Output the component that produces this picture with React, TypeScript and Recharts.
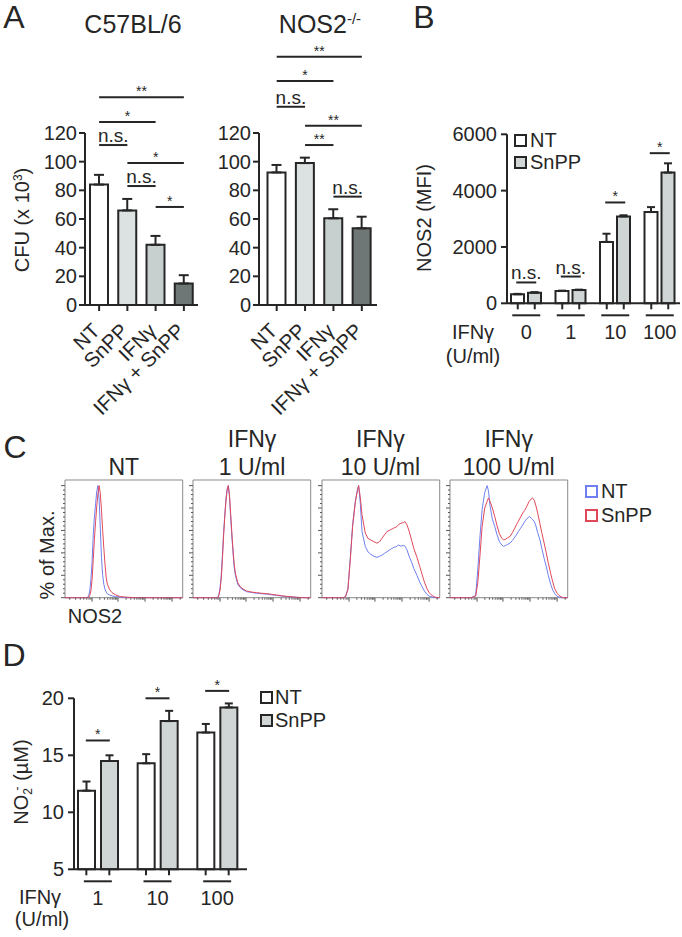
import React from "react";
import {
  Bar,
  BarChart,
  Cell,
  ErrorBar,
  Legend,
  Line,
  LineChart,
  ReferenceArea,
  ReferenceLine,
  XAxis,
  YAxis,
} from "recharts";

const INK = "#262626";
const FONT = '"Liberation Sans", Arial, Helvetica, sans-serif';

// ---- A: CFU ----
const cfuGroups = ["NT", "SnPP", "IFNγ", "IFNγ + SnPP"];
const cfuFills = ["#ffffff", "#dce1e1", "#c7cfcf", "#6f7676"];
const cfuTicks = [0, 20, 40, 60, 80, 100, 120];
const cfuWild = [84, 66, 42, 15];
const cfuWildErr = [6.8, 8, 6.2, 5.8];
const cfuKo = [92.5, 99, 60.5, 53.5];
const cfuKoErr = [5.2, 3.8, 6.3, 8.1];
// [from, to, height, label]
const wildSig: [string, string, number, string][] = [
  ["NT", "IFNγ + SnPP", 145, "**"],
  ["NT", "IFNγ", 127.7, "*"],
  ["NT", "SnPP", 111.6, "n.s."],
  ["SnPP", "IFNγ + SnPP", 99, "*"],
  ["SnPP", "IFNγ", 83, "n.s."],
  ["IFNγ", "IFNγ + SnPP", 68.4, "*"],
];
const koSig: [string, string, number, string][] = [
  ["NT", "IFNγ + SnPP", 173.2, "**"],
  ["NT", "IFNγ", 156.3, "*"],
  ["NT", "SnPP", 138.3, "n.s."],
  ["SnPP", "IFNγ + SnPP", 125.1, "**"],
  ["SnPP", "IFNγ", 111.6, "**"],
  ["IFNγ", "IFNγ + SnPP", 75.6, "n.s."],
];

// ---- B: NOS2 MFI ----
const mfiDoses = ["0", "1", "10", "100"];
const mfiTicks = [0, 2000, 4000, 6000];
const mfiNT = [320, 435, 2180, 3240];
const mfiNTErr = [15, 15, 290, 175];
const mfiSnPP = [375, 470, 3085, 4640];
const mfiSnPPErr = [20, 15, 40, 330];
const mfiSig = ["n.s.", "n.s.", "*", "*"];
const mfiSigAt = [740, 950, 3580, 5330];

// ---- C: histograms (x = position on NOS2 display scale, y = % of max) ----
const hist1X = [0, 10, 18, 20, 21, 22, 23, 24, 25, 26, 27, 28, 29, 30, 31, 32, 33, 34, 35, 36, 38, 40, 43, 47, 52, 60, 100];
const hist1NT = [0, 0, 0, 1, 6, 16, 32, 56, 72, 84, 95, 100, 88, 62, 36, 20, 12, 7.5, 5, 3.5, 2.4, 1.5, 1, 0.5, 0, 0, 0];
const hist1SnPP = [0, 0, 0, 0, 2, 6, 16, 34, 52, 68, 82, 93, 100, 93, 78, 60, 44, 30, 18, 12, 7, 4.5, 2.5, 1, 0.5, 0, 0];

const hist2X = [0, 15, 21, 22, 23, 24, 25, 26, 27, 28, 29, 30, 31, 32, 33, 34, 35, 36, 38, 40, 42.5, 45.5, 50, 54, 58, 62.5, 67, 71, 75, 79.5, 84, 88, 94, 100];
const hist2NT = [0, 0, 0, 3, 9, 20, 38, 58, 74, 88, 97, 100, 90, 72, 55, 40, 27, 20, 12, 9, 7, 5.4, 4.6, 4, 3.6, 3.2, 2.6, 2, 1.5, 1, 0.6, 0.3, 0, 0];
const hist2SnPP = [0, 0, 0, 2, 7, 17, 34, 55, 72, 86, 96, 100, 92, 75, 58, 43, 30, 22, 13.5, 10, 7.8, 6, 5, 4.5, 4, 3.6, 3, 2.4, 1.8, 1.2, 0.8, 0.4, 0, 0];

const hist3X = [0, 18, 20, 22, 24, 26, 28.3, 30, 31.1, 32.5, 34, 36.8, 39, 41, 44, 46.7, 49, 51, 53, 55.2, 58, 60.8, 63, 65, 67, 69.3, 70.5, 72.2, 74, 76.5, 78, 80.7, 83, 85, 87, 89.2, 91, 93.5, 96, 100];
const hist3NT = [0, 0, 1, 8, 35, 65, 86, 96, 100, 85, 59, 45.7, 41, 39, 37, 36, 37, 38, 39.5, 41, 43, 44.8, 45.5, 47, 46, 46.6, 46, 42.7, 37, 30.8, 26, 20, 14, 9.9, 6, 3, 1.5, 0.6, 0, 0];
const hist3SnPP = [0, 0, 1, 7, 33, 63, 85, 95, 100, 90, 74, 57.6, 53, 51.7, 50, 48.7, 50, 53, 56, 59, 60.5, 62, 63, 65, 66.4, 67, 68, 65, 59.5, 50, 44, 36, 28, 21, 14, 8, 4.5, 2, 0.5, 0];

const hist4X = [0, 18, 21.8, 23.6, 25.5, 27.3, 29.5, 31.6, 32.7, 34, 36, 38, 40, 42, 44, 45.5, 47, 49, 51, 53, 55, 56.4, 58, 60, 61.8, 63.5, 65, 67.3, 69, 70, 71.6, 73, 74.5, 76.4, 78, 80, 81.8, 83.5, 85.5, 87.3, 89, 91, 92.7, 94.5, 96.4, 100];
const hist4NT = [0, 0, 2, 24.8, 55, 78.5, 94, 100, 95, 82, 70, 63.6, 56, 50, 47, 45.7, 46.5, 47.5, 48.7, 51, 54, 56, 59, 62, 65, 68, 70, 72.5, 71, 70, 68, 64, 58, 51.7, 44, 35, 27.8, 20, 12, 6.9, 3.5, 1.2, 0.6, 0, 0, 0];
const hist4SnPP = [0, 0, 1.5, 13, 38, 63.6, 80, 86, 89, 86, 80, 72.5, 64, 57, 53, 51.7, 52, 53.5, 54.6, 58, 62, 65, 68, 72, 75.6, 78, 81, 86, 88, 89, 87, 82, 75.6, 66, 58, 48.7, 40, 31, 21.8, 14, 8, 4, 2, 0.8, 0, 0];

const histTitles = [["", "NT"], ["IFNγ", "1 U/ml"], ["IFNγ", "10 U/ml"], ["IFNγ", "100 U/ml"]];
const histDecades = [23, 45, 68, 91];
const histLowTicks = [4, 9, 13, 16, 18.5, 20.5, 22];
const histYTicks = Array.from({ length: 26 }, (_, i) => i * 4);

// ---- D: nitrite ----
const no2Doses = ["1", "10", "100"];
const no2Ticks = [5, 10, 15, 20];
const no2NT = [11.9, 14.3, 17.0];
const no2NTErr = [0.8, 0.8, 0.75];
const no2SnPP = [14.5, 18.0, 19.2];
const no2SnPPErr = [0.5, 0.9, 0.35];
const no2SigAt = [16.3, 20.0, 20.65];

const cfuWildData = cfuGroups.map((g, i) => ({ group: g, cfu: cfuWild[i], err: [0, cfuWildErr[i]] }));
const cfuKoData = cfuGroups.map((g, i) => ({ group: g, cfu: cfuKo[i], err: [0, cfuKoErr[i]] }));
const mfiData = mfiDoses.map((d, i) => ({
  dose: d,
  nt: mfiNT[i],
  ntErr: [0, mfiNTErr[i]],
  snpp: mfiSnPP[i],
  snppErr: [0, mfiSnPPErr[i]],
}));
const no2Data = no2Doses.map((d, i) => ({
  dose: d,
  nt: no2NT[i],
  ntErr: [0, no2NTErr[i]],
  snpp: no2SnPP[i],
  snppErr: [0, no2SnPPErr[i]],
}));
const histSets = [
  [hist1X, hist1NT, hist1SnPP],
  [hist2X, hist2NT, hist2SnPP],
  [hist3X, hist3NT, hist3SnPP],
  [hist4X, hist4NT, hist4SnPP],
].map(([xs, nt, sn]) => xs.map((x, i) => ({ x, nt: nt[i], snpp: sn[i] })));

const histMinor: number[] = [];
for (let d = 0; d < histDecades.length - 1; d++) {
  for (let k = 2; k < 10; k++) {
    histMinor.push(histDecades[d] + (histDecades[d + 1] - histDecades[d]) * Math.log10(k));
  }
}
const histXTicks = [...histLowTicks, ...histDecades, ...histMinor, 97.9].sort((a, b) => a - b);

function Txt({ x, y, size = 20, rotate = 0, children }: any) {
  return (
    <div
      style={{
        position: "absolute",
        left: x,
        top: y,
        transform: `translate(-50%, -50%) rotate(${rotate}deg)`,
        fontSize: size,
        lineHeight: 1,
        whiteSpace: "nowrap",
        color: INK,
      }}
    >
      {children}
    </div>
  );
}

const Sup = ({ children }: any) => (
  <span style={{ fontSize: "0.6em", position: "relative", top: "-0.6em" }}>{children}</span>
);

function SlantTick({ x, y, payload }: any) {
  const ax = x + 2;
  const ay = y + 19;
  return (
    <text x={ax} y={ay} textAnchor="end" fontSize={20.5} fill={INK} transform={`rotate(-45 ${ax} ${ay})`}>
      {payload.value}
    </text>
  );
}

function DoseTick({ x, y, payload, barOff, half }: any) {
  return (
    <g>
      <line x1={x - barOff} x2={x - barOff} y1={y} y2={y + 6} stroke={INK} strokeWidth={2} />
      <line x1={x + barOff} x2={x + barOff} y1={y} y2={y + 6} stroke={INK} strokeWidth={2} />
      <line x1={x - half} x2={x + half} y1={y + 12} y2={y + 12} stroke={INK} strokeWidth={2} />
      <text x={x} y={y + 36} textAnchor="middle" fontSize={20} fill={INK}>
        {payload.value}
      </text>
    </g>
  );
}

function HistXTick({ x, y, payload }: any) {
  const major = histDecades.includes(payload.value);
  return <line x1={x} x2={x} y1={y} y2={y + (major ? 4 : 2)} stroke="#555" strokeWidth={1} />;
}

function HistYTick({ x, y, payload }: any) {
  const major = payload.value % 20 === 0;
  return <line x1={x - (major ? 4 : 2)} x2={x} y1={y} y2={y} stroke="#555" strokeWidth={1} />;
}

const groupSigLine = (half: number) => (p: any) =>
  <line x1={p.x1 - half} x2={p.x1 + half} y1={p.y1} y2={p.y1} stroke={INK} strokeWidth={2} />;

function sigLabel(t: string) {
  const ns = t === "n.s.";
  return { value: t, position: "top" as const, offset: ns ? 3 : 1, fill: INK, fontSize: ns ? 19 : 14 };
}

function SquareLegend({ payload, rowH, outline, left }: any) {
  return (
    <div style={{ fontFamily: FONT }}>
      {(payload || []).map((e: any) => (
        <div key={e.value} style={{ display: "flex", alignItems: "center", height: rowH }}>
          <span
            style={{
              display: "inline-block",
              width: 13,
              height: 13,
              boxSizing: "border-box",
              border: `2px solid ${outline ? e.color : INK}`,
              background: outline ? "#fff" : e.color,
              marginRight: left,
            }}
          />
          <span style={{ fontSize: 20, lineHeight: 1, color: INK }}>{e.value}</span>
        </div>
      ))}
    </div>
  );
}

const axisStroke = { stroke: INK, strokeWidth: 2 };
const tickStyle = { fill: INK, fontSize: 20 };

function CfuChart({ data, sig, left, width, margin, padding }: any) {
  return (
    <div style={{ position: "absolute", left, top: 0 }}>
      <BarChart width={width} height={450} data={data} margin={margin} barSize={18}>
        <XAxis
          dataKey="group"
          interval={0}
          tickSize={6}
          tickLine={axisStroke}
          axisLine={axisStroke}
          tick={<SlantTick />}
          height={140}
          padding={padding}
        />
        <YAxis
          domain={[0, 120]}
          ticks={cfuTicks}
          interval={0}
          width={45}
          tickSize={6}
          tickMargin={2}
          tickLine={axisStroke}
          axisLine={axisStroke}
          tick={tickStyle}
        />
        <Bar dataKey="cfu" stroke={INK} strokeWidth={2} isAnimationActive={false}>
          {data.map((_: any, i: number) => (
            <Cell key={i} fill={cfuFills[i]} />
          ))}
          <ErrorBar dataKey="err" width={5} stroke={INK} strokeWidth={2} direction="y" isAnimationActive={false} />
        </Bar>
        {sig.map(([a, b, y, t]: any, i: number) => (
          <ReferenceLine
            key={i}
            segment={[
              { x: a, y },
              { x: b, y },
            ]}
            stroke={INK}
            strokeWidth={2}
            ifOverflow="visible"
            label={sigLabel(t)}
          />
        ))}
      </BarChart>
    </div>
  );
}

function HistPanel({ data, boxLeft, withLegend }: any) {
  const right = withLegend ? 120.3 : 12;
  return (
    <div style={{ position: "absolute", left: boxLeft - 12, top: 470 }}>
      <LineChart width={12 + 117.7 + right} height={150} data={data} margin={{ top: 10, right, bottom: 2.3, left: 0 }}>
        <XAxis
          type="number"
          dataKey="x"
          domain={[0, 100]}
          ticks={histXTicks}
          interval={0}
          tickSize={0}
          tickMargin={0}
          axisLine={false}
          tickLine={false}
          tick={<HistXTick />}
          height={20}
        />
        <YAxis
          type="number"
          domain={[0, 105]}
          ticks={histYTicks}
          interval={0}
          tickSize={0}
          tickMargin={0}
          axisLine={false}
          tickLine={false}
          tick={<HistYTick />}
          width={12}
        />
        <ReferenceArea x1={0} x2={100} y1={0} y2={105} fill="none" stroke="#8a8a8a" strokeWidth={1} />
        <Line type="linear" dataKey="nt" name="NT" stroke="#6f7ff0" strokeWidth={1} dot={false} isAnimationActive={false} />
        <Line type="linear" dataKey="snpp" name="SnPP" stroke="#e0485a" strokeWidth={1} dot={false} isAnimationActive={false} />
        {withLegend && (
          <Legend
            layout="vertical"
            align="center"
            verticalAlign="middle"
            wrapperStyle={{ left: 147, top: 9, width: 100 }}
            content={(p: any) => <SquareLegend payload={p.payload} rowH={24} outline left={3} />}
          />
        )}
      </LineChart>
    </div>
  );
}

export default function App() {
  return (
    <div
      style={{
        position: "absolute",
        left: 0,
        top: 0,
        width: 682,
        height: 937,
        background: "#fff",
        fontFamily: FONT,
        color: INK,
        overflow: "hidden",
      }}
    >
      {/* A */}
      <Txt x={14} y={17} size={32}>A</Txt>
      <Txt x={133} y={24} size={25}>C57BL/6</Txt>
      <Txt x={320} y={24} size={25}>
        NOS2<Sup>-/-</Sup>
      </Txt>
      <Txt x={22} y={220} rotate={-90}>
        CFU (x 10<Sup>3</Sup>)
      </Txt>
      <CfuChart
        data={cfuWildData}
        sig={wildSig}
        left={0}
        width={215}
        margin={{ top: 133, right: 17, bottom: 5, left: 40 }}
        padding={{ left: 0, right: 0 }}
      />
      <CfuChart
        data={cfuKoData}
        sig={koSig}
        left={200}
        width={180}
        margin={{ top: 133, right: 3, bottom: 5, left: 14 }}
        padding={{ left: 3.5, right: 1 }}
      />

      {/* B */}
      <Txt x={424} y={17} size={32}>B</Txt>
      <Txt x={424} y={218} rotate={-90}>NOS2 (MFI)</Txt>
      <div style={{ position: "absolute", left: 420, top: 0 }}>
        <BarChart
          width={262}
          height={370}
          data={mfiData}
          margin={{ top: 134.3, right: 2, bottom: 5, left: 27 }}
          barSize={13}
          barGap={4}
        >
          <XAxis
            dataKey="dose"
            interval={0}
            tickSize={0}
            tickMargin={0}
            tickLine={false}
            axisLine={axisStroke}
            tick={(p: any) => <DoseTick {...p} barOff={8.5} half={14} />}
            height={61.7}
            padding={{ left: -3, right: -2 }}
          />
          <YAxis
            domain={[0, 6000]}
            ticks={mfiTicks}
            interval={0}
            width={60}
            tickSize={6}
            tickMargin={4}
            tickLine={axisStroke}
            axisLine={axisStroke}
            tick={tickStyle}
          />
          <Bar dataKey="nt" name="NT" fill="#ffffff" stroke={INK} strokeWidth={2} isAnimationActive={false}>
            <ErrorBar dataKey="ntErr" width={4} stroke={INK} strokeWidth={2} direction="y" isAnimationActive={false} />
          </Bar>
          <Bar dataKey="snpp" name="SnPP" fill="#d0d6d6" stroke={INK} strokeWidth={2} isAnimationActive={false}>
            <ErrorBar dataKey="snppErr" width={4} stroke={INK} strokeWidth={2} direction="y" isAnimationActive={false} />
          </Bar>
          {mfiDoses.map((d, i) => (
            <ReferenceLine
              key={d}
              segment={[
                { x: d, y: mfiSigAt[i] },
                { x: d, y: mfiSigAt[i] },
              ]}
              ifOverflow="visible"
              shape={groupSigLine(10)}
              label={sigLabel(mfiSig[i])}
            />
          ))}
          <Legend
            layout="vertical"
            align="center"
            verticalAlign="middle"
            wrapperStyle={{ left: 94, top: 129, width: 100 }}
            content={(p: any) => <SquareLegend payload={p.payload} rowH={22} left={3} />}
          />
        </BarChart>
      </div>
      <Txt x={473} y={332}>IFNγ</Txt>
      <Txt x={473} y={356}>(U/ml)</Txt>

      {/* C */}
      <Txt x={15} y={447} size={32}>C</Txt>
      {histTitles.map(([l1, l2], i) => (
        <React.Fragment key={i}>
          {l1 && (
            <Txt x={65 + i * 128.3 + 58.8} y={439} size={23}>
              {l1}
            </Txt>
          )}
          <Txt x={65 + i * 128.3 + 58.8} y={467} size={23}>
            {l2}
          </Txt>
        </React.Fragment>
      ))}
      {histSets.map((data, i) => (
        <HistPanel key={i} data={data} boxLeft={65 + i * 128.3} withLegend={i === 3} />
      ))}
      <Txt x={47} y={555} rotate={-90}>% of Max.</Txt>
      <Txt x={95} y={616}>NOS2</Txt>

      {/* D */}
      <Txt x={14} y={655} size={32}>D</Txt>
      <Txt x={21} y={782} rotate={-90}>
        NO<span style={{ fontSize: "0.6em", position: "relative", top: "0.35em" }}>2</span>
        <span style={{ fontSize: "0.6em", position: "relative", top: "-0.6em", marginLeft: "-0.2em" }}>-</span> (µM)
      </Txt>
      <div style={{ position: "absolute", left: 0, top: 640 }}>
        <BarChart
          width={330}
          height={297}
          data={no2Data}
          margin={{ top: 58.3, right: 83, bottom: 7, left: 24 }}
          barSize={17}
          barGap={6}
        >
          <XAxis
            dataKey="dose"
            interval={0}
            tickSize={0}
            tickMargin={0}
            tickLine={false}
            axisLine={axisStroke}
            tick={(p: any) => <DoseTick {...p} barOff={11.5} half={14} />}
            height={60.7}
            padding={{ left: -6, right: 0 }}
          />
          <YAxis
            domain={[5, 20]}
            ticks={no2Ticks}
            interval={0}
            width={50}
            tickSize={6}
            tickMargin={4}
            tickLine={axisStroke}
            axisLine={axisStroke}
            tick={tickStyle}
          />
          <Bar dataKey="nt" name="NT" fill="#ffffff" stroke={INK} strokeWidth={2} isAnimationActive={false}>
            <ErrorBar dataKey="ntErr" width={4} stroke={INK} strokeWidth={2} direction="y" isAnimationActive={false} />
          </Bar>
          <Bar dataKey="snpp" name="SnPP" fill="#d0d6d6" stroke={INK} strokeWidth={2} isAnimationActive={false}>
            <ErrorBar dataKey="snppErr" width={4} stroke={INK} strokeWidth={2} direction="y" isAnimationActive={false} />
          </Bar>
          {no2Doses.map((d, i) => (
            <ReferenceLine
              key={d}
              segment={[
                { x: d, y: no2SigAt[i] },
                { x: d, y: no2SigAt[i] },
              ]}
              ifOverflow="visible"
              shape={groupSigLine(12)}
              label={sigLabel("*")}
            />
          ))}
          <Legend
            layout="vertical"
            align="center"
            verticalAlign="middle"
            wrapperStyle={{ left: 260, top: 45.5, width: 70 }}
            content={(p: any) => <SquareLegend payload={p.payload} rowH={23} left={2} />}
          />
        </BarChart>
      </div>
      <Txt x={40} y={897}>IFNγ</Txt>
      <Txt x={42} y={919}>(U/ml)</Txt>
    </div>
  );
}
